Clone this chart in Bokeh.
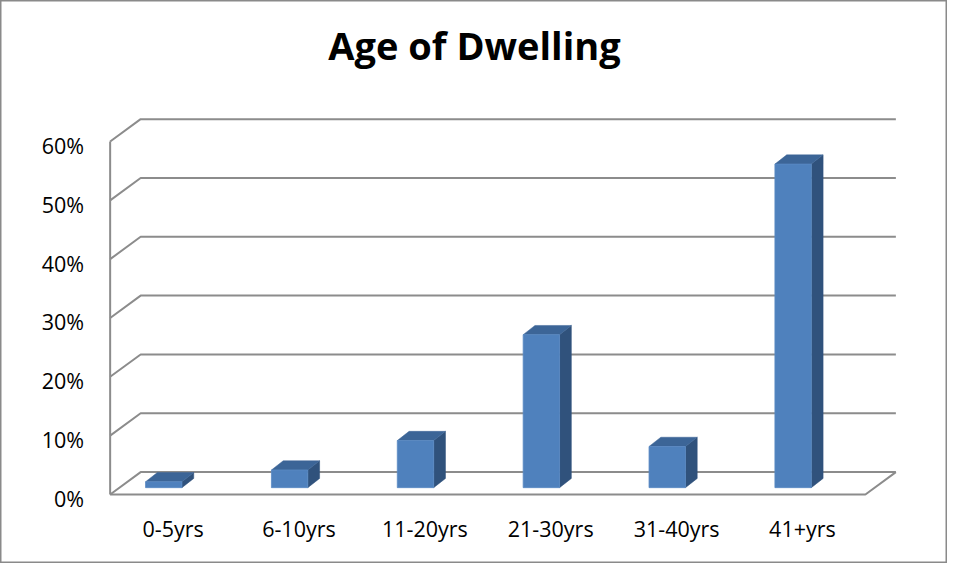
from bokeh.plotting import figure
from bokeh.models import Range1d
from bokeh.embed import file_html
from bokeh.resources import INLINE
from bokeh.core.properties import value

# ---- data ----
title_text = "Age of Dwelling"
categories = ["0-5yrs", "6-10yrs", "11-20yrs", "21-30yrs", "31-40yrs", "41+yrs"]
values = [1, 3, 8, 26, 7, 55]
y_ticks = [0, 10, 20, 30, 40, 50, 60]
y_tick_labels = ["0%", "10%", "20%", "30%", "40%", "50%", "60%"]

# ---- layout geometry (reference pixels, 963 x 579 design) ----
REF_W, REF_H = 963, 579
W, H = 947, 563
PX_CAT = 128.0          # px per category on the front plane
PX_PCT = 6.05           # px per percent
OX, OY = 111.5, 508.0   # front-left floor corner (y from top)

DEPTH_DX = 31.0 / PX_CAT
DEPTH_DY = 23.0 / PX_PCT
BAR_OFF = 36.0 / PX_CAT
BAR_W = 37.0 / PX_CAT
BAR_BASE = 7.0 / PX_PCT
BAR_DX = 12.0 / PX_CAT
BAR_DY = 9.5 / PX_PCT
LABEL_SHIFT = 4.0 / PX_PCT

N = len(categories)


def ux(px):
    return (px - OX) / PX_CAT


def vy(py):
    return (OY - py) / PX_PCT


p = figure(width=W, height=H, output_backend="svg", toolbar_location=None,
           x_range=Range1d(ux(0), ux(REF_W)),
           y_range=Range1d(vy(REF_H), vy(0)),
           x_axis_type=None, y_axis_type=None, min_border=0)
p.grid.visible = False
p.background_fill_color = "white"
p.border_fill_color = "white"
p.outline_line_color = "#8a8a8a"
p.outline_line_width = 2

GRID = "#8c8c8c"
gx, gy = [], []
for t in y_ticks:
    gx.append([0, DEPTH_DX, N + DEPTH_DX])
    gy.append([t, t + DEPTH_DY, t + DEPTH_DY])
p.multi_line(gx, gy, line_color=GRID, line_width=2)
p.line([0, 0], [y_ticks[0], y_ticks[-1]], line_color=GRID, line_width=2)
p.line([0, N, N + DEPTH_DX], [0, 0, DEPTH_DY], line_color=GRID, line_width=2)

fx, fy, tx, ty, sx, sy = [], [], [], [], [], []
for i, v in enumerate(values):
    L = i + BAR_OFF
    R = L + BAR_W
    B = BAR_BASE
    T = B + v
    fx.append([L, R, R, L]); fy.append([B, B, T, T])
    tx.append([L, R, R + BAR_DX, L + BAR_DX]); ty.append([T, T, T + BAR_DY, T + BAR_DY])
    sx.append([R, R + BAR_DX, R + BAR_DX, R]); sy.append([B, B + BAR_DY, T + BAR_DY, T])
p.patches(sx, sy, fill_color="#30527c", line_color="#30527c", line_width=0.5)
p.patches(tx, ty, fill_color="#3c6597", line_color="#3c6597", line_width=0.5)
p.patches(fx, fy, fill_color="#4f81bd", line_color="#5a8ac4", line_width=0.8)

FONT = value("Open Sans")
p.text(x=[ux(85)] * len(y_ticks), y=[t - LABEL_SHIFT for t in y_ticks], text=y_tick_labels,
       text_font=FONT, text_font_size="21.5px", text_color="#000000",
       text_align="right", text_baseline="middle")
p.text(x=[i + 0.5 for i in range(N)], y=[vy(543)] * N, text=categories,
       text_font=FONT, text_font_size="21.5px", text_color="#000000",
       text_align="center", text_baseline="middle")
p.text(x=[ux(482)], y=[vy(46)], text=[title_text],
       text_font=FONT, text_font_size="38px", text_font_style="bold",
       text_color="#000000", text_align="center", text_baseline="middle")

open("out.html", "w").write(file_html(p, INLINE))
